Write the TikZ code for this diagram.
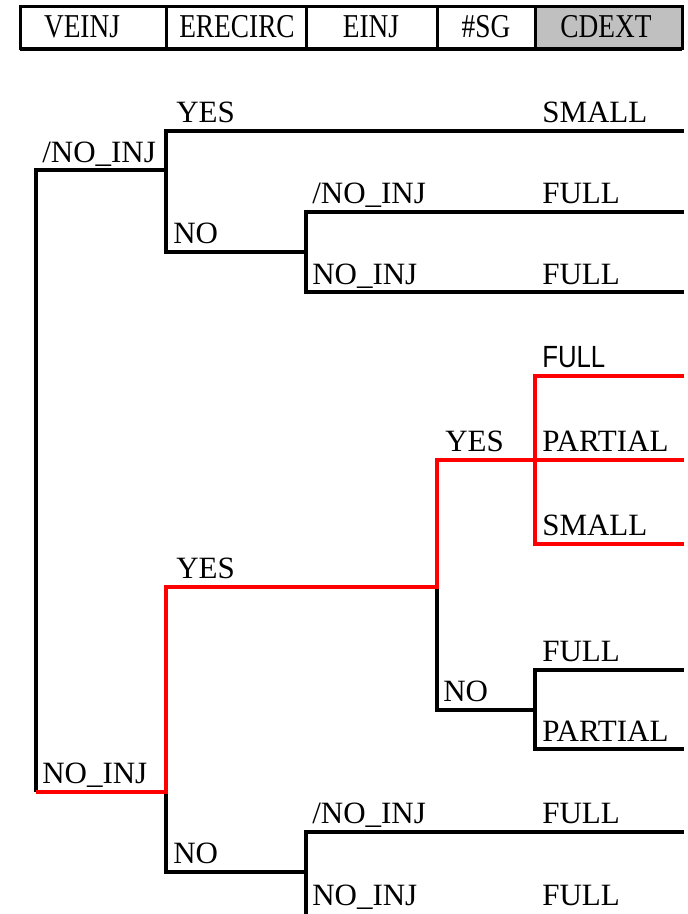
\documentclass[tikz,border=0pt]{standalone}
\usepackage{fontspec}
\setmainfont{Liberation Serif}
\newfontfamily\labsans[FakeStretch=0.84]{Liberation Sans}
\newfontfamily\hdrserif[FakeStretch=0.82]{Liberation Serif}
\definecolor{hdrgray}{HTML}{C0C0C0}
\definecolor{pathred}{HTML}{FF0000}
\begin{document}
\begin{tikzpicture}[x=0.75pt,y=-0.75pt,
  blk/.style={line width=2.4pt,black,line join=miter},
  hot/.style={line width=3.3pt,pathred,line join=miter},
  frame/.style={line width=2.25pt,black},
  hdr/.style={font=\hdrserif\fontsize{25}{25}\selectfont,inner sep=0pt,anchor=base},
  lbl/.style={font=\fontsize{23.25}{23.25}\selectfont,inner sep=0pt,anchor=base west},
  lblsans/.style={font=\labsans\fontsize{23}{23}\selectfont,inner sep=0pt,anchor=base west}]
\useasboundingbox (0,0) rectangle (688,914);

% ---- column header ----
\fill[hdrgray] (535,6) rectangle (682,48);
\draw[frame] (20,6) rectangle (682,48);
\draw[line width=3pt] (20,49) -- (682,49);
\foreach \xd in {166,306,437,535}{\draw[frame] (\xd,6) -- (\xd,48);}
\node[hdr] (hVE) at (82,37) {VEINJ};
\node[hdr] (hER) at (237,37) {ERECIRC};
\node[hdr] (hEI) at (371,37) {EINJ};
\node[hdr] (hSG) at (486,37) {\#SG};
\node[hdr] (hCD) at (606,37) {CDEXT};

% ---- branch points ----
\coordinate (rT) at (36,170);   \coordinate (rB) at (36,792);
\coordinate (aT) at (166,170);
\coordinate (aY) at (166,131);  \coordinate (aN) at (166,252);
\coordinate (aYe) at (684,131);
\coordinate (bM) at (306,252);
\coordinate (bT) at (306,212);  \coordinate (bB) at (306,292);
\coordinate (bTe) at (684,212); \coordinate (bBe) at (684,292);
\coordinate (cM) at (166,792);
\coordinate (cY) at (166,587);  \coordinate (cN) at (166,872);
\coordinate (dY) at (437,587);
\coordinate (dT) at (437,460);  \coordinate (dN) at (437,710);
\coordinate (eT) at (535,376);  \coordinate (eM) at (535,460);  \coordinate (eB) at (535,544);
\coordinate (eTe) at (684,376); \coordinate (eMe) at (684,460); \coordinate (eBe) at (684,544);
\coordinate (fM) at (535,710);
\coordinate (fT) at (535,670);  \coordinate (fB) at (535,749);
\coordinate (fTe) at (684,670); \coordinate (fBe) at (684,749);
\coordinate (gM) at (306,872);
\coordinate (gT) at (306,832);  \coordinate (gB) at (306,914);
\coordinate (gTe) at (684,832);

% ---- branches ----
\draw[blk] (aT) -- (rT) -- (rB);
\draw[blk] (aYe) -- (aY) -- (aN) -- (bM);
\draw[blk] (bTe) -- (bT) -- (bB) -- (bBe);
\draw[blk] (cM) -- (cN) -- (gM);
\draw[blk] (gB) -- (gT) -- (gTe);
\draw[blk] (dY) -- (dN) -- (fM);
\draw[blk] (fTe) -- (fT) -- (fB) -- (fBe);
% highlighted sequence
\draw[hot] (rB) -- (cM) -- (cY) -- (dY) -- (dT) -- (eMe);
\draw[hot] (eTe) -- (eT) -- (eB) -- (eBe);

% ---- branch labels ----
\node[lbl] (t1) at (42,162) {/NO\_INJ};
\node[lbl] (t2) at (176,122) {YES};
\node[lbl] (t3) at (173,243) {NO};
\node[lbl] (t4) at (312,203) {/NO\_INJ};
\node[lbl] (t5) at (312,284) {NO\_INJ};
\node[lbl] (t6) at (542,122) {SMALL};
\node[lbl] (t7) at (542,203) {FULL};
\node[lbl] (t8) at (542,284) {FULL};
\node[lblsans] (t9) at (542,367) {FULL};
\node[lbl] (t10) at (445,451) {YES};
\node[lbl] (t11) at (542,451) {PARTIAL};
\node[lbl] (t12) at (542,535) {SMALL};
\node[lbl] (t13) at (176,578) {YES};
\node[lbl] (t14) at (542,661) {FULL};
\node[lbl] (t15) at (443,701) {NO};
\node[lbl] (t16) at (542,741) {PARTIAL};
\node[lbl] (t17) at (42,783) {NO\_INJ};
\node[lbl] (t18) at (312,823) {/NO\_INJ};
\node[lbl] (t19) at (542,823) {FULL};
\node[lbl] (t20) at (173,863) {NO};
\node[lbl] (t21) at (312,905) {NO\_INJ};
\node[lbl] (t22) at (542,905) {FULL};
\end{tikzpicture}
\end{document}
